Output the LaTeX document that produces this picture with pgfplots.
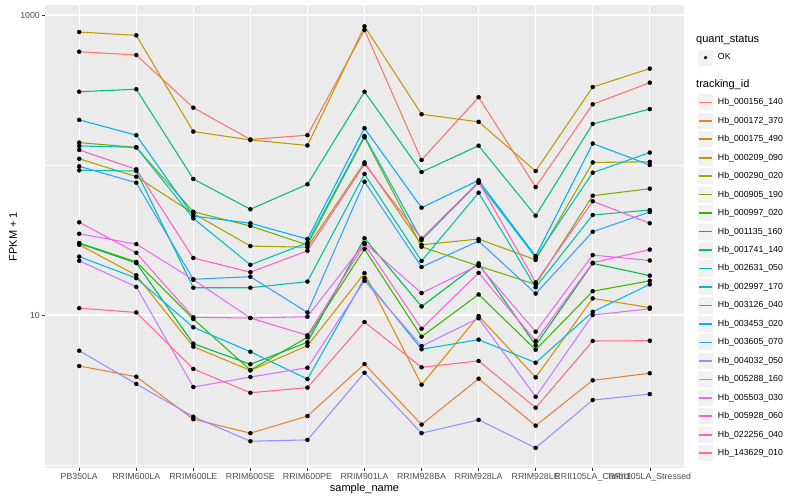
\documentclass[border=0pt]{standalone}
\usepackage{fontspec}
\setmainfont{Liberation Sans}
\usepackage{pgfplots}
\usepackage{pgfplotstable}
\pgfplotsset{compat=1.18}

% ggplot hue palette, 20 levels
\definecolor{c1}{HTML}{F8766D}
\definecolor{c2}{HTML}{EA8331}
\definecolor{c3}{HTML}{D89000}
\definecolor{c4}{HTML}{C09B00}
\definecolor{c5}{HTML}{A3A500}
\definecolor{c6}{HTML}{7CAE00}
\definecolor{c7}{HTML}{39B600}
\definecolor{c8}{HTML}{00BB4E}
\definecolor{c9}{HTML}{00BF7D}
\definecolor{c10}{HTML}{00C1A3}
\definecolor{c11}{HTML}{00BFC4}
\definecolor{c12}{HTML}{00BAE0}
\definecolor{c13}{HTML}{00B0F6}
\definecolor{c14}{HTML}{35A2FF}
\definecolor{c15}{HTML}{9590FF}
\definecolor{c16}{HTML}{C77CFF}
\definecolor{c17}{HTML}{E76BF3}
\definecolor{c18}{HTML}{FA62DB}
\definecolor{c19}{HTML}{FF62BC}
\definecolor{c20}{HTML}{FF6C91}
\definecolor{panelgray}{HTML}{EBEBEB}
\definecolor{keygray}{HTML}{F2F2F2}
\definecolor{tickgray}{HTML}{4D4D4D}
\definecolor{tickdark}{HTML}{333333}

% FPKM + 1 per sample (rows) and tracking id (columns)
\pgfplotstableread{
x  s1   s2   s3   s4   s5   s6   s7   s8   s9    s10  s11  s12  s13  s14  s15  s16  s17  s18  s19   s20
0  569  4.57 29.4 770  110  141  30.2 30.0 308   92.2 134  24.5 200  98.0 5.78 23.0 34.8 41.5 126   11.1
1  541  3.88 18.4 732  83.6 131  22.6 22.2 320   91.2 131  17.6 158  76.2 3.47 15.4 29.7 26.0 93.6  10.4
2  241  2.02 6.15 167  47.6 48.8 9.40 6.44 80.7  15.2 44.1 8.28 45.7 17.3 2.10 3.31 17.2 9.65 24.0  4.37
3  148  1.63 4.27 147  28.8 39.2 4.30 4.69 50.7  15.2 21.6 5.69 40.9 18.0 1.44 3.86 9.55 9.55 19.3  3.03
4  158  2.12 6.24 135  28.3 29.3 7.10 6.58 74.4  16.7 30.3 3.74 32.1 10.4 1.47 4.45 9.74 7.32 26.8  3.28
5  794  4.71 19.0 841  104  153  27.5 32.5 308   87.1 156  17.6 176  77.4 4.12 16.9 30.2 29.7 101.5 8.98
6  108  1.86 3.43 218  29.4 28.5 7.17 11.4 89.8  22.9 31.6 5.91 51.9 20.9 1.63 6.21 14.0 8.10 32.3  4.48
7  283  3.76 9.85 194  32.1 21.2 13.7 22.1 134.5 65.4 76.2 6.85 79.1 31.1 2.00 9.51 21.5 19.1 77.4  4.94
8  71.3 1.83 3.84 91.2 23.3 16.0 5.87 6.28 45.9  15.3 24.2 4.81 24.7 13.9 1.30 2.85 7.74 6.71 16.5  2.41
9  254  3.67 12.9 331  104  62.4 14.4 22.1 188   46.4 88.9 10.5 139  35.9 2.71 10.0 25.1 22.3 57.3  6.71
10 354  4.09 11.2 439  105  69.5 16.9 18.3 236   50.1 121  16.0 100  48.6 2.97 11.0 23.1 27.3 40.9  6.74
}\fpkm

\newcommand{\ticksize}{\fontsize{8.8bp}{10bp}\selectfont}
\newcommand{\titlesize}{\fontsize{11bp}{13bp}\selectfont}

\begin{document}
\begin{tikzpicture}
\begin{axis}[
    scale only axis,
    width=639bp, height=463bp,
    xmin=-0.6, xmax=10.6,
    ymode=log, ymin=0.955, ymax=1166,
    axis background/.style={fill=panelgray},
    axis line style={draw=none},
    xtick={0,...,10},
    xticklabels={PB350LA,RRIM600LA,RRIM600LE,RRIM600SE,RRIM600PE,RRIM901LA,RRIM928BA,RRIM928LA,RRIM928LE,RRII105LA\_Control,RRII105LA\_Stressed},
    ytick={10,1000}, yticklabels={10,1000},
    minor ytick={1,100},
    xmajorgrids, ymajorgrids, yminorgrids,
    major grid style={white, line width=1.07bp},
    minor grid style={white, line width=0.53bp},
    tick align=outside, major tick length=2.75bp, minor tick length=0pt,
    xtick pos=bottom, ytick pos=left,
    tick style={color=tickdark, line width=0.53bp},
    ticklabel style={font=\ticksize, text=tickgray, inner sep=0pt},
    xticklabel style={anchor=north, yshift=-2.2bp},
    yticklabel style={anchor=east, xshift=-2.2bp},
    xlabel={sample\_name}, ylabel={FPKM + 1},
    every axis x label/.style={at={(axis description cs:0.5,-0.0438)}, anchor=center, font=\titlesize},
    every axis y label/.style={at={(axis description cs:-0.0501,0.5)}, rotate=90, anchor=center, font=\titlesize},
    legend style={draw=none, fill=none, inner sep=0pt, outer sep=0pt, row sep=0pt,
        at={(1.0199,0.8098)}, anchor=north west,
        nodes={font=\ticksize, inner xsep=3.5bp, inner ysep=0pt, minimum height=17.27bp, text=black}},
    legend cell align=left,
    legend image code/.code={
        \fill[keygray, draw=white, line width=1.2bp] (0bp,-8.635bp) rectangle (16.5bp,8.635bp);
        \draw[#1, line width=1.6bp] (1.6bp,0bp) -- (14.9bp,0bp);
    },
]
\pgfplotsinvokeforeach{1,...,20}{
    \addplot[color=c#1, line width=1.07bp, mark=none] table[x=x, y=s#1]{\fpkm};
}
\pgfplotsinvokeforeach{1,...,20}{
    \addplot[forget plot, only marks, mark=*, mark size=2bp, black] table[x=x, y=s#1]{\fpkm};
}
\legend{Hb\_000156\_140,Hb\_000172\_370,Hb\_000175\_490,Hb\_000209\_090,Hb\_000290\_020,
    Hb\_000905\_190,Hb\_000997\_020,Hb\_001135\_160,Hb\_001741\_140,Hb\_002631\_050,
    Hb\_002997\_170,Hb\_003126\_040,Hb\_003453\_020,Hb\_003605\_070,Hb\_004032\_050,
    Hb\_005288\_160,Hb\_005503\_030,Hb\_005928\_060,Hb\_022256\_040,Hb\_143629\_010}
\end{axis}
\begin{axis}[
    scale only axis,
    width=639bp, height=463bp,
    hide axis,
    xmin=0, xmax=1, ymin=0, ymax=1,
    legend style={draw=none, fill=none, inner sep=0pt, outer sep=0pt, row sep=0pt,
        at={(1.0199,0.9063)}, anchor=north west,
        nodes={font=\ticksize, inner xsep=3.5bp, inner ysep=0pt, minimum height=17.27bp, text=black}},
    legend cell align=left,
    legend image code/.code={
        \fill[keygray, draw=white, line width=1.2bp] (0bp,-8.635bp) rectangle (16.5bp,8.635bp);
        \draw[#1] plot coordinates {(8.25bp,0bp)};
    },
]
\addlegendimage{only marks, mark=*, mark size=1.5bp, black}
\addlegendentry{OK}
\end{axis}
% legend titles, placed from the panel's lower-left corner
\node[anchor=west, inner sep=0pt, font=\titlesize] at (651bp,428bp) {quant\_status};
\node[anchor=west, inner sep=0pt, font=\titlesize] at (651bp,383bp) {tracking\_id};
\pgfresetboundingbox
\path[use as bounding box] (-45bp,-32bp) rectangle (755bp,468bp);
\end{tikzpicture}
\end{document}
